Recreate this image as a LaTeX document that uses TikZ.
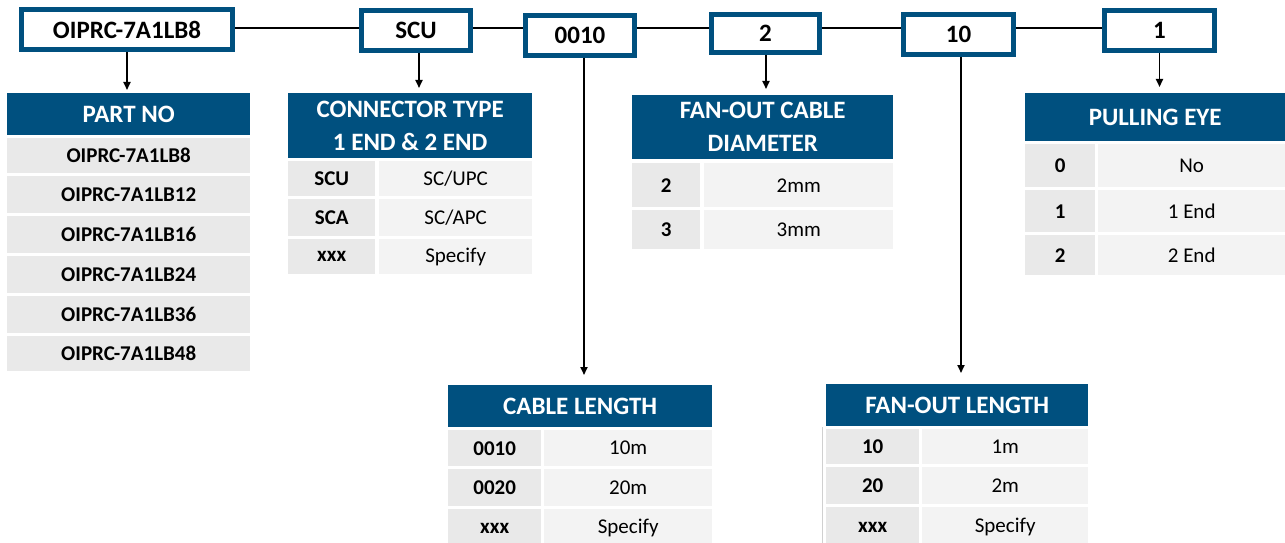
\documentclass[tikz,border=0pt]{standalone}
\usepackage{fontspec}
\setmainfont{Carlito}
\usetikzlibrary{arrows.meta}
\definecolor{hblue}{HTML}{00507F}
\definecolor{cellA}{HTML}{E9E9E9}
\definecolor{cellB}{HTML}{F3F3F3}
\definecolor{edgegray}{HTML}{D0D0D0}
\newcommand\hfont{\fontsize{25}{33}\selectfont\bfseries}
\newcommand\cfontb{\fontsize{21}{25}\selectfont\bfseries}
\newcommand\cfontr{\fontsize{21}{25}\selectfont}
\newcommand\cellat[7]{\node[#2, minimum width={(#5-#3)*1pt}, minimum height={(#6-#4)*1pt}] (#1) at (#3,#4) {#7};}
\tikzset{
  hdr/.style={fill=hblue, text=white, font=\hfont, align=center, inner sep=0pt, anchor=north west},
  ca/.style={fill=cellA, text=black, font=\cfontb, inner sep=0pt, anchor=north west},
  cb/.style={fill=cellB, text=black, font=\cfontr, inner sep=0pt, anchor=north west},
  topbox/.style={draw=hblue, line width=5pt, fill=white, font=\hfont, inner sep=0pt},
  link/.style={line width=2pt},
  arr/.style={line width=1.8pt, -{Triangle[length=8pt,width=7pt]}}
}
\begin{document}
\begin{tikzpicture}[x=1pt,y=-1pt]
\clip (0,0) rectangle (1285,543);
% top code boxes
\node[topbox, minimum width=211pt, minimum height=40pt] (b1) at (127,29.5) {OIPRC-7A1LB8};
\node[topbox, minimum width=109pt, minimum height=40pt] (b2) at (416,30.5) {SCU};
\node[topbox, minimum width=109pt, minimum height=40pt] (b3) at (580,35.5) {0010};
\node[topbox, minimum width=108pt, minimum height=38pt] (b4) at (765.5,33.5) {2};
\node[topbox, minimum width=110pt, minimum height=40pt] (b5) at (958.5,34.5) {10};
\node[topbox, minimum width=110pt, minimum height=40pt] (b6) at (1159.5,30.5) {1};
\coordinate (ly) at (0,28);
\draw[link] (b1.east |- ly) -- (b2.west |- ly);
\draw[link] (b2.east |- ly) -- (b3.west |- ly);
\draw[link] (b3.east |- ly) -- (b4.west |- ly);
\draw[link] (b4.east |- ly) -- (b5.west |- ly);
\draw[link] (b5.east |- ly) -- (b6.west |- ly);

% PART NO
\cellat{t1}{hdr}{7}{93}{250}{135}{PART NO}
\cellat{p1}{ca}{7}{138}{250}{173}{OIPRC-7A1LB8}
\cellat{p2}{ca}{7}{176}{250}{213}{OIPRC-7A1LB12}
\cellat{p3}{ca}{7}{216}{250}{253}{OIPRC-7A1LB16}
\cellat{p4}{ca}{7}{256}{250}{293}{OIPRC-7A1LB24}
\cellat{p5}{ca}{7}{296}{250}{333}{OIPRC-7A1LB36}
\cellat{p6}{ca}{7}{336}{250}{371}{OIPRC-7A1LB48}

% CONNECTOR TYPE
\cellat{t2}{hdr}{288}{93}{532}{158}{CONNECTOR TYPE\\1 END \& 2 END}
\cellat{c1a}{ca}{288}{161}{375}{196}{SCU}
\cellat{c1b}{cb}{379}{161}{532}{196}{SC/UPC}
\cellat{c2a}{ca}{288}{199}{375}{236}{SCA}
\cellat{c2b}{cb}{379}{199}{532}{236}{SC/APC}
\cellat{c3a}{ca}{288}{239}{375}{274}{xxx}
\cellat{c3b}{cb}{379}{239}{532}{274}{Specify}

% FAN-OUT CABLE DIAMETER
\cellat{t4}{hdr}{632}{95}{893}{159}{FAN-OUT CABLE\hspace{28pt}\\DIAMETER\hspace{28pt}}
\cellat{d1a}{ca}{632}{163}{700}{207}{2}
\cellat{d1b}{cb}{704}{163}{893}{207}{2mm}
\cellat{d2a}{ca}{632}{210}{700}{249}{3}
\cellat{d2b}{cb}{704}{210}{893}{249}{3mm}

% PULLING EYE
\cellat{t6}{hdr}{1025}{93}{1285}{141}{PULLING EYE}
\cellat{e1a}{ca}{1025}{144}{1095}{187}{0}
\cellat{e1b}{cb}{1098}{144}{1285}{187}{No}
\cellat{e2a}{ca}{1025}{190}{1095}{232}{1}
\cellat{e2b}{cb}{1098}{190}{1285}{232}{1 End}
\cellat{e3a}{ca}{1025}{235}{1095}{275}{2}
\cellat{e3b}{cb}{1098}{235}{1285}{275}{2 End}

% CABLE LENGTH
\cellat{t3}{hdr}{448}{385}{712}{427}{CABLE LENGTH}
\cellat{l1a}{ca}{448}{430}{541}{466}{0010}
\cellat{l1b}{cb}{544}{430}{712}{466}{10m}
\cellat{l2a}{ca}{448}{469}{541}{506}{0020}
\cellat{l2b}{cb}{544}{469}{712}{506}{20m}
\cellat{l3a}{ca}{448}{509}{541}{547}{xxx}
\cellat{l3b}{cb}{544}{509}{712}{547}{Specify}

% FAN-OUT LENGTH
\cellat{t5}{hdr}{826}{384}{1088}{426}{FAN-OUT LENGTH}
\cellat{f1a}{ca}{826}{429}{919}{464}{10}
\cellat{f1b}{cb}{922}{429}{1088}{464}{1m}
\cellat{f2a}{ca}{826}{467}{919}{504}{20}
\cellat{f2b}{cb}{922}{467}{1088}{504}{2m}
\cellat{f3a}{ca}{826}{507}{919}{547}{xxx}
\cellat{f3b}{cb}{922}{507}{1088}{547}{Specify}
\coordinate (g1) at (822,427);
\coordinate (g2) at (822,543);
\draw[edgegray, line width=0.8pt] (g1) -- (g2);

% arrows
\draw[arr, shorten >=3pt] (b1.south) -- (b1.south |- t1.north);
\draw[arr, shorten >=5pt] ([xshift=3pt]b2.south) -- ([xshift=3pt]b2.south |- t2.north);
\draw[arr, shorten >=10pt] ([xshift=4pt]b3.south) -- ([xshift=4pt]b3.south |- t3.north);
\draw[arr, shorten >=6pt] ([xshift=0.5pt]b4.south) -- ([xshift=0.5pt]b4.south |- t4.north);
\draw[arr, shorten >=11pt] ([xshift=2.5pt]b5.south) -- ([xshift=2.5pt]b5.south |- t5.north);
\draw[arr, shorten >=6pt] (b6.south) -- (b6.south |- t6.north);
\end{tikzpicture}
\end{document}
